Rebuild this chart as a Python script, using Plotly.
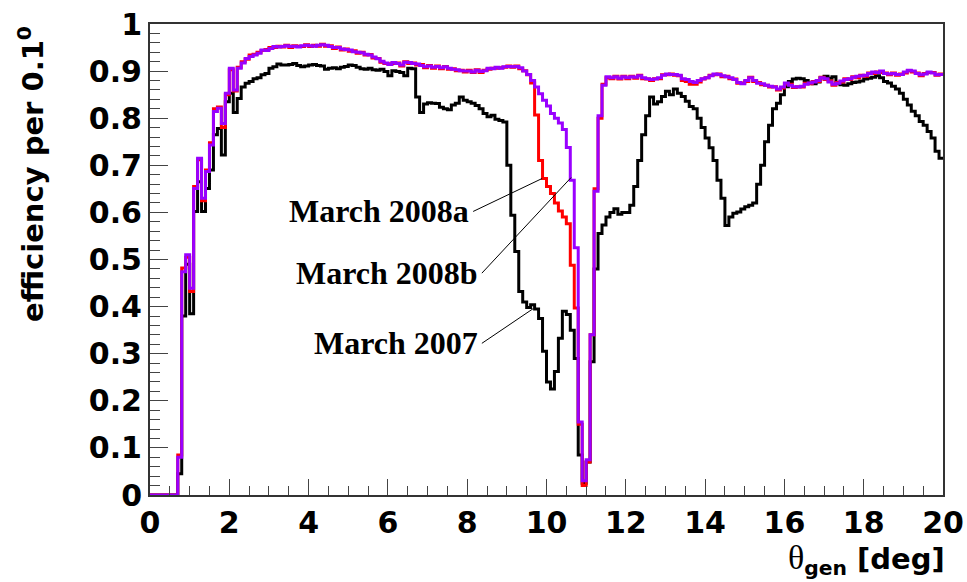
import numpy as np
import plotly.graph_objects as go

# Bin width 0.1 deg, 200 bins from 0 to 20 deg
bin_width = 0.1
n_bins = 200

# March 2007 efficiency per bin
eff_2007 = [
    0, 0, 0, 0, 0, 0, 0, 0.045, 0.38, 0.49,
    0.385, 0.602, 0.665, 0.602, 0.651, 0.69, 0.765, 0.778, 0.722, 0.835,
    0.853, 0.812, 0.842, 0.866, 0.874, 0.878, 0.884, 0.886, 0.892, 0.895,
    0.906, 0.909, 0.915, 0.913, 0.913, 0.914, 0.916, 0.912, 0.909, 0.911,
    0.913, 0.914, 0.912, 0.911, 0.904, 0.906, 0.907, 0.905, 0.908, 0.910,
    0.913, 0.912, 0.908, 0.905, 0.904, 0.906, 0.903, 0.902, 0.904, 0.899,
    0.890, 0.901, 0.899, 0.897, 0.890, 0.906, 0.905, 0.845, 0.812, 0.830,
    0.833, 0.832, 0.831, 0.823, 0.820, 0.818, 0.828, 0.832, 0.845, 0.838,
    0.835, 0.832, 0.827, 0.820, 0.810, 0.803, 0.806, 0.798, 0.795, 0.792,
    0.700, 0.594, 0.517, 0.432, 0.410, 0.398, 0.404, 0.395, 0.375, 0.305,
    0.240, 0.225, 0.262, 0.333, 0.390, 0.383, 0.350, 0.290, 0.085, 0.025,
    0.070, 0.283, 0.480, 0.555, 0.573, 0.590, 0.600, 0.608, 0.596, 0.600,
    0.600, 0.615, 0.655, 0.710, 0.765, 0.805, 0.845, 0.830, 0.835, 0.846,
    0.857, 0.850, 0.862, 0.853, 0.846, 0.836, 0.825, 0.820, 0.800, 0.780,
    0.758, 0.737, 0.710, 0.668, 0.630, 0.572, 0.590, 0.598, 0.601, 0.607,
    0.612, 0.615, 0.620, 0.660, 0.700, 0.750, 0.785, 0.820, 0.832, 0.850,
    0.867, 0.878, 0.883, 0.885, 0.884, 0.880, 0.875, 0.873, 0.877, 0.886,
    0.889, 0.885, 0.888, 0.874, 0.871, 0.870, 0.873, 0.876, 0.877, 0.879,
    0.883, 0.885, 0.887, 0.890, 0.886, 0.878, 0.875, 0.868, 0.862, 0.853,
    0.840, 0.828, 0.815, 0.805, 0.793, 0.785, 0.772, 0.758, 0.730, 0.715,
]

# March 2008a efficiency per bin
eff_2008a = [
    0, 0, 0, 0, 0, 0, 0, 0.085, 0.482, 0.505,
    0.432, 0.655, 0.712, 0.625, 0.690, 0.748, 0.820, 0.824, 0.780, 0.850,
    0.903, 0.858, 0.908, 0.920, 0.925, 0.934, 0.936, 0.940, 0.944, 0.946,
    0.950, 0.950, 0.953, 0.951, 0.955, 0.950, 0.954, 0.953, 0.952, 0.956,
    0.952, 0.955, 0.953, 0.957, 0.953, 0.954, 0.948, 0.951, 0.945, 0.947,
    0.942, 0.943, 0.938, 0.940, 0.934, 0.935, 0.928, 0.927, 0.919, 0.916,
    0.915, 0.916, 0.917, 0.911, 0.920, 0.916, 0.917, 0.913, 0.914, 0.907,
    0.912, 0.906, 0.911, 0.905, 0.910, 0.904, 0.905, 0.901, 0.902, 0.898,
    0.902, 0.897, 0.903, 0.897, 0.902, 0.904, 0.906, 0.906, 0.907, 0.908,
    0.911, 0.908, 0.911, 0.905, 0.901, 0.892, 0.875, 0.807, 0.710, 0.672,
    0.655, 0.640, 0.620, 0.603, 0.590, 0.576, 0.488, 0.397, 0.150, 0.020,
    0.070, 0.340, 0.650, 0.800, 0.872, 0.886, 0.884, 0.889, 0.883, 0.889,
    0.884, 0.889, 0.885, 0.891, 0.884, 0.883, 0.880, 0.884, 0.884, 0.892,
    0.892, 0.894, 0.891, 0.890, 0.880, 0.878, 0.872, 0.872, 0.877, 0.883,
    0.886, 0.891, 0.892, 0.894, 0.888, 0.889, 0.884, 0.883, 0.874, 0.875,
    0.878, 0.887, 0.878, 0.876, 0.871, 0.870, 0.866, 0.867, 0.860, 0.864,
    0.873, 0.872, 0.865, 0.867, 0.866, 0.874, 0.873, 0.878, 0.878, 0.887,
    0.882, 0.879, 0.870, 0.876, 0.877, 0.884, 0.882, 0.888, 0.886, 0.891,
    0.889, 0.896, 0.895, 0.898, 0.897, 0.896, 0.892, 0.896, 0.891, 0.894,
    0.896, 0.901, 0.898, 0.896, 0.890, 0.895, 0.897, 0.897, 0.891, 0.894,
]

# March 2008b efficiency per bin
eff_2008b = [
    0, 0, 0, 0, 0, 0, 0, 0.080, 0.474, 0.510,
    0.439, 0.651, 0.715, 0.630, 0.687, 0.743, 0.814, 0.821, 0.789, 0.853,
    0.906, 0.860, 0.906, 0.917, 0.927, 0.931, 0.934, 0.938, 0.945, 0.944,
    0.948, 0.952, 0.951, 0.952, 0.954, 0.952, 0.953, 0.951, 0.954, 0.955,
    0.954, 0.953, 0.955, 0.956, 0.955, 0.952, 0.950, 0.950, 0.947, 0.946,
    0.945, 0.941, 0.940, 0.939, 0.936, 0.934, 0.930, 0.926, 0.921, 0.917,
    0.914, 0.918, 0.916, 0.913, 0.919, 0.918, 0.916, 0.915, 0.912, 0.909,
    0.911, 0.908, 0.910, 0.907, 0.909, 0.906, 0.904, 0.903, 0.901, 0.900,
    0.900, 0.898, 0.902, 0.899, 0.901, 0.906, 0.905, 0.908, 0.906, 0.909,
    0.910, 0.909, 0.910, 0.907, 0.900, 0.893, 0.880, 0.866, 0.852, 0.838,
    0.826, 0.810, 0.800, 0.790, 0.776, 0.738, 0.668, 0.525, 0.155, 0.030,
    0.075, 0.340, 0.645, 0.805, 0.870, 0.888, 0.886, 0.888, 0.885, 0.888,
    0.886, 0.888, 0.887, 0.890, 0.886, 0.884, 0.882, 0.883, 0.886, 0.891,
    0.894, 0.893, 0.893, 0.891, 0.884, 0.882, 0.878, 0.876, 0.880, 0.884,
    0.886, 0.890, 0.894, 0.893, 0.890, 0.888, 0.886, 0.882, 0.876, 0.873,
    0.880, 0.886, 0.880, 0.874, 0.873, 0.870, 0.868, 0.866, 0.862, 0.866,
    0.875, 0.870, 0.867, 0.866, 0.868, 0.872, 0.875, 0.877, 0.880, 0.886,
    0.884, 0.877, 0.872, 0.874, 0.879, 0.882, 0.884, 0.887, 0.889, 0.890,
    0.891, 0.895, 0.898, 0.897, 0.900, 0.895, 0.894, 0.895, 0.893, 0.893,
    0.898, 0.902, 0.900, 0.895, 0.892, 0.894, 0.898, 0.896, 0.892, 0.893,
]

series_names = ["March 2007", "March 2008a", "March 2008b"]
series_colors = ["#000000", "#ff0000", "#9900ff"]

# Leader-line labels: text, text anchor (x, y), line tip on the curve (x, y)
label_texts = ["March 2008a", "March 2008b", "March 2007"]
label_tail = [(8.15, 0.602), (8.37, 0.471), (8.37, 0.322)]
label_tip = [(9.89, 0.672), (10.62, 0.674), (9.67, 0.396)]

edges = np.arange(n_bins + 1) * bin_width


def step_xy(values):
    # histogram outline: each bin value held from its left edge to its right edge
    v = list(values) + [values[-1]]
    return edges, v


fig = go.Figure()
for name, color, vals in zip(series_names, series_colors,
                             [eff_2007, eff_2008a, eff_2008b]):
    x, y = step_xy(vals)
    fig.add_trace(go.Scatter(
        x=x, y=y, mode="lines", name=name,
        line=dict(color=color, width=3, shape="hv"),
        showlegend=False,
    ))

for text, (tx, ty), (px, py) in zip(label_texts, label_tail, label_tip):
    fig.add_shape(type="line", x0=tx, y0=ty, x1=px, y1=py,
                  xref="x", yref="y", line=dict(color="black", width=1))
    fig.add_annotation(x=tx, y=ty, xref="x", yref="y", text=text,
                       showarrow=False, xanchor="right", yanchor="middle",
                       xshift=-2,
                       font=dict(family="Liberation Serif", size=32,
                                 color="black", weight="bold"))

axis_font = dict(family="DejaVu Sans", size=30, color="black", weight="bold")

fig.update_xaxes(
    range=[0, 20], tickmode="linear", tick0=0, dtick=2,
    ticks="inside", ticklen=16, tickwidth=1, tickcolor="#444",
    minor=dict(ticks="inside", ticklen=9, dtick=0.5, tickcolor="#444", tickwidth=1),
    showline=True, linecolor="#333", linewidth=2, mirror=True,
    showgrid=False, zeroline=False, automargin=False,
    tickfont=axis_font,
)
fig.update_yaxes(
    range=[0, 1], tickmode="array",
    tickvals=[0, 0.1, 0.2, 0.3, 0.4, 0.5, 0.6, 0.7, 0.8, 0.9, 1.0],
    ticktext=["0", "0.1", "0.2", "0.3", "0.4", "0.5", "0.6", "0.7", "0.8", "0.9", "1"],
    ticks="inside", ticklen=18, tickwidth=1, tickcolor="#444",
    minor=dict(ticks="inside", ticklen=10, dtick=0.02, tickcolor="#444", tickwidth=1),
    showline=True, linecolor="#333", linewidth=2, mirror=True,
    showgrid=False, zeroline=False, automargin=False,
    tickfont=axis_font,
)

# Axis titles, aligned to the ends of the axes
fig.add_annotation(
    x=0, y=1, xref="paper", yref="paper", xanchor="right", yanchor="top",
    xshift=-98, yshift=0, textangle=-90, showarrow=False,
    text="efficiency per 0.1<sup>0</sup>",
    font=dict(family="DejaVu Sans", size=29, color="black", weight="bold"),
)
fig.add_annotation(
    x=1, y=0, xref="paper", yref="paper", xanchor="right", yanchor="top",
    xshift=4, yshift=-42, showarrow=False,
    text="<span style='font-family:Liberation Serif;font-weight:normal;font-size:34px'>θ</span>"
         "<sub>gen</sub> [deg]",
    font=dict(family="DejaVu Sans", size=29, color="black", weight="bold"),
)

fig.update_layout(
    width=967, height=582,
    margin=dict(l=150, r=24, t=24, b=87),
    paper_bgcolor="white", plot_bgcolor="white",
)

fig.write_html("out.html")
